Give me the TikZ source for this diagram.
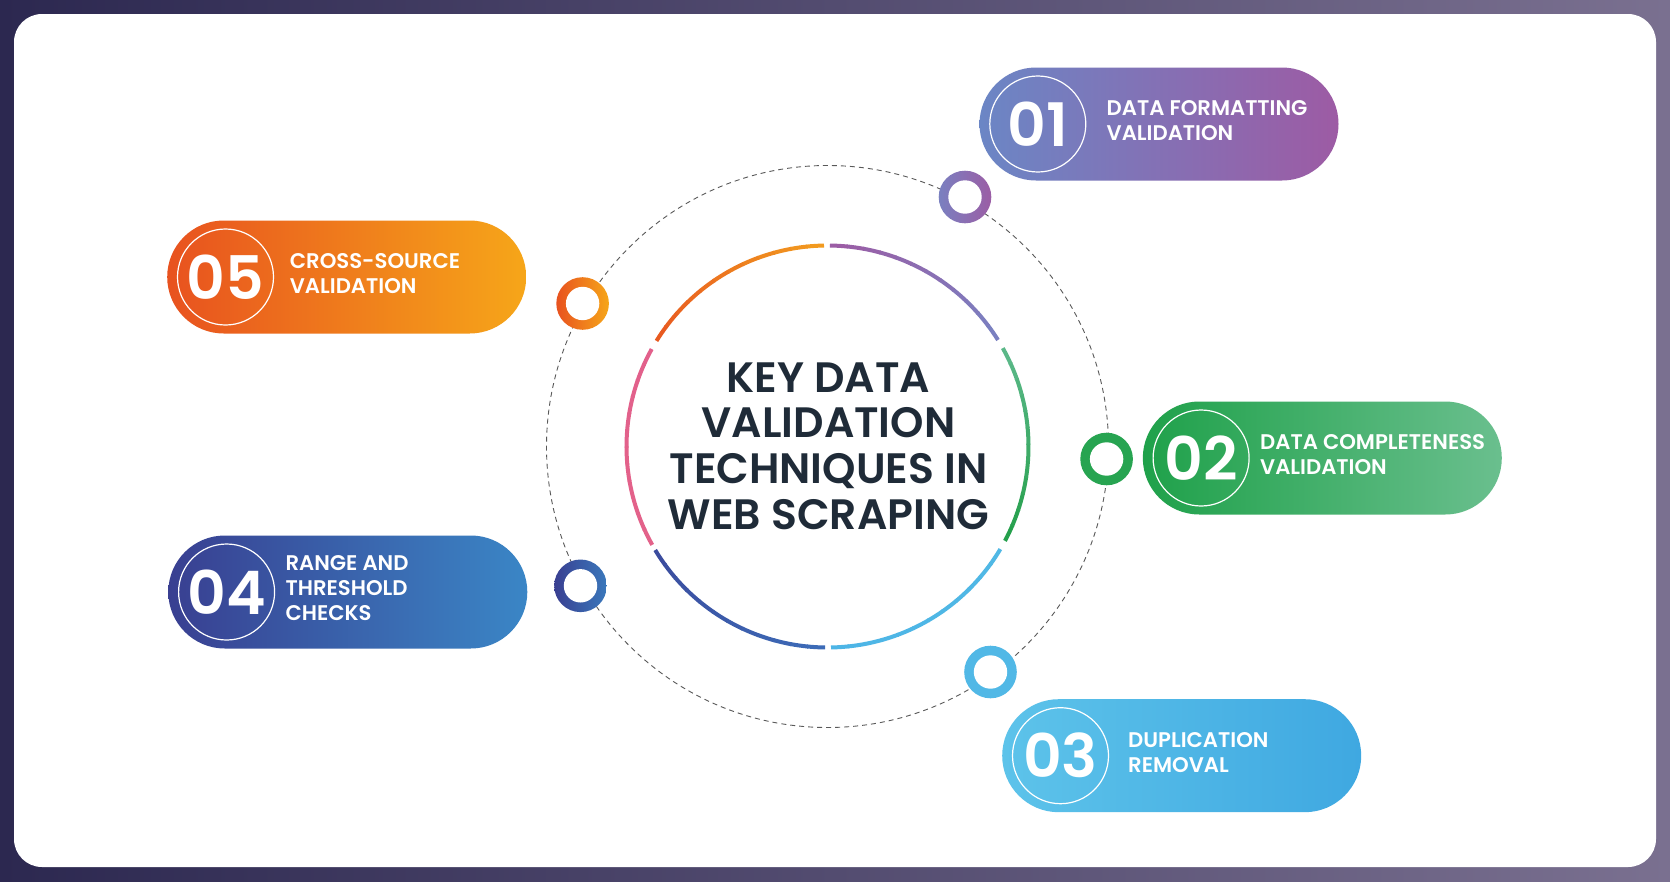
\documentclass[tikz,border=0pt]{standalone}
\usepackage{fontspec}
\setmainfont{Poppins}
\newfontfamily\semi{Poppins SemiBold}
\begin{document}
\definecolor{navy}{HTML}{2C2850}
\definecolor{navyR}{HTML}{7A7090}
\definecolor{titlec}{HTML}{1F2B38}
\definecolor{aL}{HTML}{6B86C5}\definecolor{aR}{HTML}{9D5BA4}
\definecolor{bL}{HTML}{1FA14A}\definecolor{bR}{HTML}{6ABF8E}
\definecolor{cL}{HTML}{5DC3EA}\definecolor{cR}{HTML}{3FA8E1}
\definecolor{dL}{HTML}{393F91}\definecolor{dR}{HTML}{3A86C6}
\definecolor{eL}{HTML}{E8521F}\definecolor{eR}{HTML}{F6A619}
\definecolor{arcOa}{HTML}{E85A20}\definecolor{arcOb}{HTML}{F29A1F}
\definecolor{arcPa}{HTML}{7A80C0}\definecolor{arcPb}{HTML}{9B5DA5}
\definecolor{arcGa}{HTML}{5BB888}\definecolor{arcGb}{HTML}{25A04C}
\definecolor{arcLa}{HTML}{4DB5E6}\definecolor{arcLb}{HTML}{50B8E5}
\definecolor{arcDa}{HTML}{3B4C9E}\definecolor{arcDb}{HTML}{3C6BB7}
\definecolor{arcKa}{HTML}{E2608B}\definecolor{arcKb}{HTML}{E3628A}
\tikzset{
  pill/.style={rectangle, rounded corners=56.5pt, minimum width=359pt, minimum height=113pt, inner sep=0pt},
  numring/.style={circle, draw=white, line width=1.2pt, minimum size=96pt, inner sep=0pt, font=\semi\fontsize{60}{60}\selectfont, text=white},
  label/.style={anchor=west, align=left, inner sep=0pt, text=white, font=\semi\fontsize{21.2}{25}\selectfont},
  ringout/.style={circle, minimum size=52.6pt, inner sep=0pt},
  ringin/.style={circle, fill=white, minimum size=33.4pt, inner sep=0pt},
}
\begin{tikzpicture}[x=1pt,y=-1pt]
\useasboundingbox (0,0) rectangle (1670,881);
% background
\shade[left color=navy, right color=navyR] (0,0) rectangle (1670,881);
\fill[white, rounded corners=28pt] (14,14) rectangle (1656,867);
% center
\coordinate (C) at (827.5,446.5);
\draw[gray!70!black, line width=0.9pt, dash pattern=on 5pt off 4pt] (C) circle (281pt);
% colored arcs (math angles)
\begin{scope}[shift={(C)}, y=1pt, line width=4pt]
  \foreach \a/\b/\ca/\cb in {91/148/arcOb/arcOa, 32/89/arcPa/arcPb, -28/29/arcGb/arcGa, -89/-31/arcLa/arcLb, -149/-91/arcDa/arcDb, 151/209/arcKa/arcKb}{
    \foreach \i in {0,...,11}{
      \pgfmathsetmacro{\s}{\a+(\b-\a)*\i/12}
      \pgfmathsetmacro{\e}{\a+(\b-\a)*(\i+1)/12+0.3}
      \pgfmathsetmacro{\t}{100-100*\i/11}
      \draw[color=\ca!\t!\cb] (\s:201) arc[start angle=\s, end angle=\e, radius=201];
    }
  }
\end{scope}
\node[align=center, text=titlec, inner sep=0pt, font=\semi\fontsize{42.5}{45.7}\selectfont] (title) at (828.5,446) {KEY DATA\\VALIDATION\\TECHNIQUES IN\\WEB SCRAPING};
% markers
\node[ringout, left color=arcPa, right color=arcPb] (m1) at (965,197) {};
\node[ringin] (m1i) at (m1) {};
\node[ringout, left color=eL, right color=eR] (m5) at (582.6,303.5) {};
\node[ringin] (m5i) at (m5) {};
\node[ringout, fill=bL!90!bR] (m2) at (1106.6,459) {};
\node[ringin] (m2i) at (m2) {};
\node[ringout, left color=dL, right color=dR!80!dL] (m4) at (580.5,585.8) {};
\node[ringin] (m4i) at (m4) {};
\node[ringout, fill=cL!60!cR] (m3) at (990.5,672) {};
\node[ringin] (m3i) at (m3) {};
% pills
\node[pill, left color=aL, right color=aR] (p1) at (1159,124) {};
\node[pill, left color=bL, right color=bR] (p2) at (1322.3,458) {};
\node[pill, left color=cL, right color=cR] (p3) at (1181.7,755.7) {};
\node[pill, left color=dL, right color=dR] (p4) at (347.8,592) {};
\node[pill, left color=eL, right color=eR] (p5) at (346.7,277) {};
% number circles
\node[numring] (n1) at ([xshift=58.5pt]p1.west) {01};
\node[numring] (n2) at ([xshift=58.5pt]p2.west) {02};
\node[numring] (n3) at ([xshift=58.5pt]p3.west) {03};
\node[numring] (n4) at ([xshift=58.5pt]p4.west) {04};
\node[numring] (n5) at ([xshift=58.5pt]p5.west) {05};
% labels
\node[label] (t1) at (1106.5,121) {DATA FORMATTING\\VALIDATION};
\node[label] (t2) at (1260,455) {DATA COMPLETENESS\\VALIDATION};
\node[label] (t3) at (1128,752.5) {DUPLICATION\\REMOVAL};
\node[label] (t4) at (285.4,588.5) {RANGE AND\\THRESHOLD\\CHECKS};
\node[label] (t5) at (289.7,273.5) {CROSS-SOURCE\\VALIDATION};
\end{tikzpicture}
\end{document}
